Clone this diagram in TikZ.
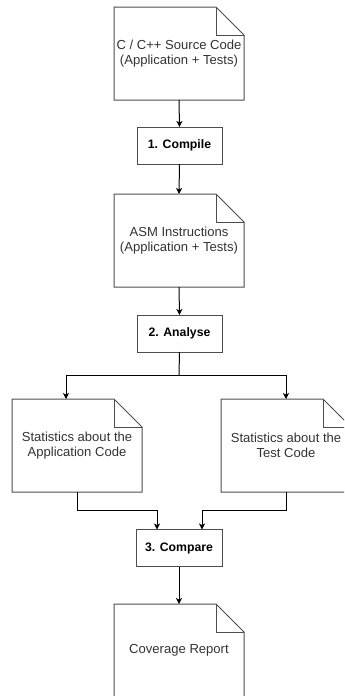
\documentclass[tikz,border=0pt]{standalone}
\usepackage{fontspec}
\setmainfont{Liberation Sans}
\usetikzlibrary{arrows.meta,calc}

\definecolor{shapeline}{HTML}{4D4D4D}
\definecolor{doctext}{HTML}{333333}

\tikzset{
  docnode/.style={draw=none, inner sep=0pt, outer sep=0pt,
    minimum width=97.5pt, minimum height=69.75pt,
    align=center, text=doctext, font=\fontsize{9.8pt}{11.5pt}\selectfont},
  docline/.style={draw=shapeline, line width=0.75pt, line join=miter},
  stepbox/.style={draw=shapeline, line width=0.75pt, inner sep=0pt, outer sep=0pt,
    minimum width=63.75pt, minimum height=27.75pt,
    font=\fontsize{9.2pt}{11.25pt}\selectfont\bfseries},
  conn/.style={draw=black, line width=0.75pt,
    -{Stealth[length=4.5pt,width=4.5pt,inset=1.2pt]}},
  plain/.style={draw=black, line width=0.75pt},
}

% document outline with a folded top-right corner
\newcommand{\notefold}[1]{%
  \draw[docline] (#1.north west) -- ([xshift=-21pt]#1.north east)
    -- ([yshift=-21pt]#1.north east) -- (#1.south east)
    -- (#1.south west) -- cycle;
  \draw[docline] ([xshift=-21pt]#1.north east)
    -- ([xshift=-21pt,yshift=-21pt]#1.north east)
    -- ([yshift=-21pt]#1.north east);
}

\begin{document}
\begin{tikzpicture}[x=0.75pt,y=-0.75pt]
  \useasboundingbox (0,0) rectangle (344,696);
  \clip (0,0) rectangle (344,696);

  % documents
  \node[docnode] (src) at (179,53.5) {C / C++ Source Code\\(Application + Tests)};
  \node[docnode] (asm) at (179,240.5) {ASM Instructions\\(Application + Tests)};
  \node[docnode] (sapp) at (77,445.5) {Statistics about the\\Application Code};
  \node[docnode] (stest) at (286,445.5) {Statistics about the\\Test Code};
  \node[docnode] (rep) at (179,650.5) {Coverage Report};
  \notefold{src}
  \notefold{asm}
  \notefold{sapp}
  \notefold{stest}
  \notefold{rep}

  % processing steps
  \node[stepbox] (compile) at (179.5,145.5) {1. Compile};
  \node[stepbox] (analyse) at (179.5,333.5) {2. Analyse};
  \node[stepbox, minimum width=64.5pt] (compare) at (179,548) {3. Compare};

  % flow
  \draw[conn] (src.south) -- (compile.north);
  \draw[conn] (compile.south) -- (asm.north);
  \draw[conn] (asm.south) -- (analyse.north);

  \coordinate (split) at (179,375);
  \draw[plain] (analyse.south) -- (split);
  \draw[conn] (split) -| ([xshift=-8.25pt]sapp.north);
  \draw[conn] (split) -| (stest.north);

  \draw[conn] (sapp.south) -- ++(0,18) -| ([xshift=15.75pt]compare.north west);
  \draw[conn] (stest.south) -- ++(0,18) -| ([xshift=-15pt]compare.north east);

  \draw[conn] (compare.south) -- (rep.north);
\end{tikzpicture}
\end{document}
